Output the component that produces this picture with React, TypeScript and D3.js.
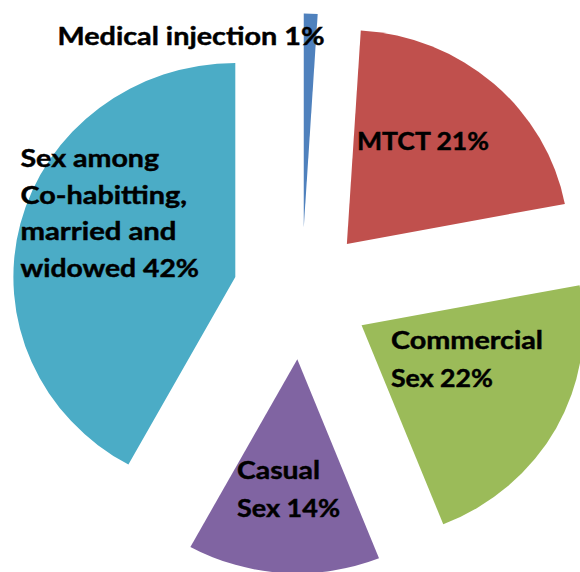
import { useMemo } from 'react';
import * as d3 from 'd3';

const categories = ['Medical injection', 'MTCT', 'Commercial Sex', 'Casual Sex', 'Sex among Co-habitting, married and widowed'];
const values = [1, 21, 22, 14, 42];
const colors = ['#4F81BD', '#C0504D', '#9BBB59', '#8064A2', '#4BACC6'];
const labelLines = [
  ['Medical injection 1%'],
  ['MTCT 21%'],
  ['Commercial', 'Sex 22%'],
  ['Casual', 'Sex 14%'],
  ['Sex among', 'Co-habitting,', 'married and', 'widowed 42%'],
];

// label layout: left x, first baseline, line gap, widths per line
const LABEL_LAYOUT = [
  { x: 57.5, y: 44.5, gap: 0, widths: [267] },
  { x: 357, y: 150, gap: 0, widths: [132] },
  { x: 391, y: 349, gap: 38, widths: [152, 102] },
  { x: 237, y: 479, gap: 38, widths: [83, 103] },
  { x: 20.5, y: 167, gap: 36.7, widths: [138.5, 166.5, 156, 178.5] },
];

const W = 580, H = 572;
const CX = 301.6, CY = 293.5;
const R = 214, EXPLODE = 66, SX = 1.037;

export default function App() {
  const slices = useMemo(() => {
    const pie = d3.pie<number>().sort(null).value((d) => d);
    const arc = d3.arc<d3.PieArcDatum<number>>().innerRadius(0).outerRadius(R);
    return pie(values).map((p, i) => {
      const mid = (p.startAngle + p.endAngle) / 2;
      return {
        key: categories[i],
        d: arc(p) ?? '',
        dx: EXPLODE * Math.sin(mid),
        dy: -EXPLODE * Math.cos(mid),
        color: colors[i],
      };
    });
  }, []);

  return (
    <svg width={W} height={H} viewBox={`0 0 ${W} ${H}`}
      style={{ position: 'absolute', left: 0, top: 0, overflow: 'hidden', background: '#fff' }}>
      <g transform={`translate(${CX},${CY}) scale(${SX},1)`}>
        {slices.map((s) => (
          <path key={s.key} d={s.d} transform={`translate(${s.dx},${s.dy})`} fill={s.color} />
        ))}
      </g>
      <g fontFamily="Lato, 'Open Sans', sans-serif" fontWeight={700} fontSize={24.5}
        fill="#000" stroke="#000" strokeWidth={0.45}>
        {labelLines.map((lines, i) => {
          const lay = LABEL_LAYOUT[i];
          return lines.map((line, j) => (
            <text key={`${i}-${j}`} x={lay.x} y={lay.y + j * lay.gap}
              textLength={lay.widths[j]} lengthAdjust="spacingAndGlyphs">{line}</text>
          ));
        })}
      </g>
    </svg>
  );
}
